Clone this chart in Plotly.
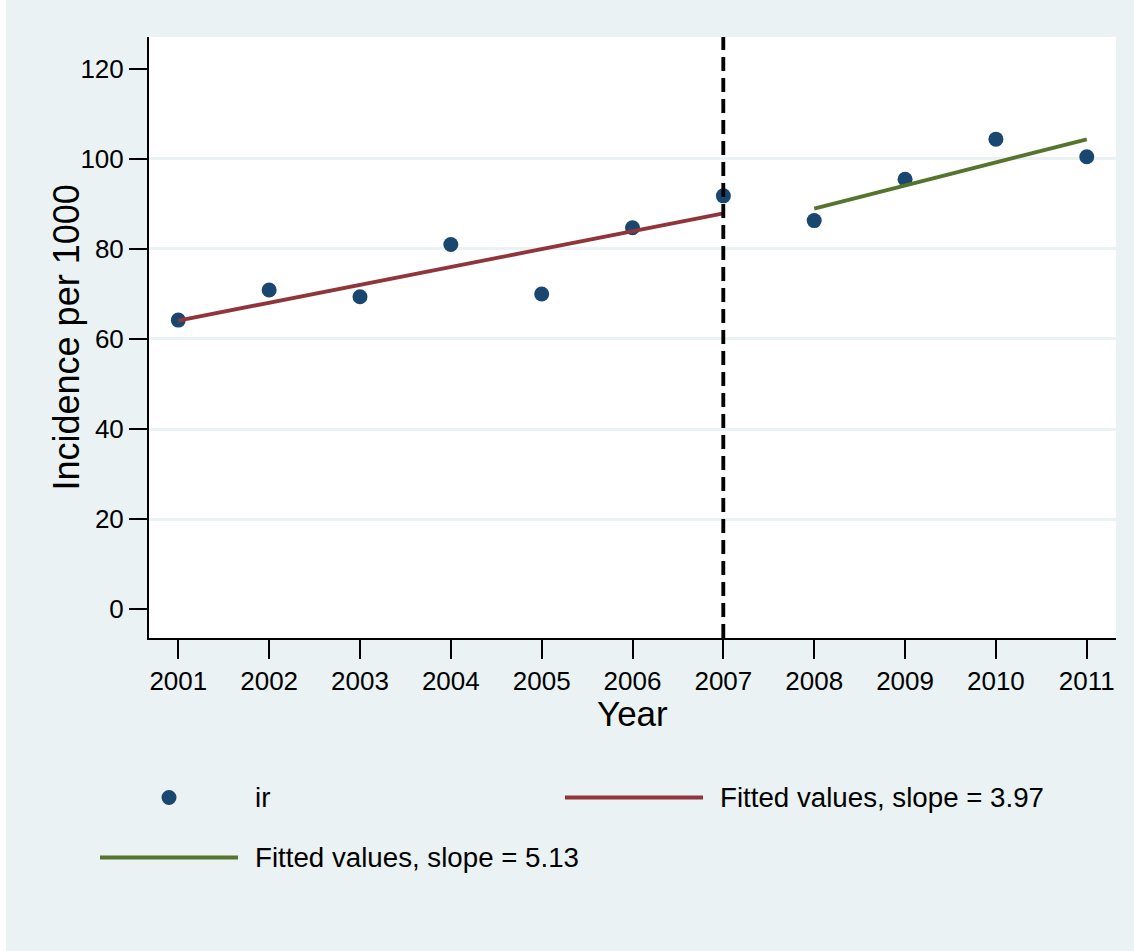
import plotly.graph_objects as go
import numpy as np

# Incidence rate per 1000 by year
years = [2001, 2002, 2003, 2004, 2005, 2006, 2007, 2008, 2009, 2010, 2011]
incidence = [64.2, 70.9, 69.4, 81.0, 70.0, 84.7, 91.8, 86.3, 95.5, 104.4, 100.5]

# Break year and fitted slopes on each side of it
break_year = 2007
slope_before = 3.97
slope_after = 5.13

y_ticks = [0, 20, 40, 60, 80, 100, 120]
grid_ticks = [20, 40, 60, 80, 100]

NAVY = "#1A476F"
MAROON = "#90353B"
GREEN = "#55752F"
PANEL = "#EAF2F3"
FONT = "Liberation Sans, Arial, Helvetica, sans-serif"

yrs = np.array(years, dtype=float)
inc = np.array(incidence, dtype=float)
pre = yrs <= break_year
post = yrs > break_year


def fitted(x, y, slope):
    # line with the given slope through the segment's centroid
    b0 = y.mean() - slope * x.mean()
    return [x.min(), x.max()], [b0 + slope * x.min(), b0 + slope * x.max()]


fx1, fy1 = fitted(yrs[pre], inc[pre], slope_before)
fx2, fy2 = fitted(yrs[post], inc[post], slope_after)

label_pts = "ir"
label_pre = f"Fitted values, slope = {slope_before:.2f}"
label_post = f"Fitted values, slope = {slope_after:.2f}"

fig = go.Figure()

fig.add_trace(go.Scatter(
    x=years, y=incidence, mode="markers", name=label_pts,
    marker=dict(color=NAVY, size=15, line=dict(width=0)),
    showlegend=False,
))
fig.add_trace(go.Scatter(
    x=fx1, y=fy1, mode="lines", name=label_pre,
    line=dict(color=MAROON, width=3.8), showlegend=False,
))
fig.add_trace(go.Scatter(
    x=fx2, y=fy2, mode="lines", name=label_post,
    line=dict(color=GREEN, width=3.8), showlegend=False,
))

# dashed reference line at the break year
fig.add_vline(x=break_year, line=dict(color="black", width=3.5, dash="14px,7px"), layer="above")

# Plot-area geometry in pixels (used to place the legend block and titles)
W, H = 1134, 951
L, R, T, B = 149, 18, 37, 313
pw, ph = W - L - R, H - T - B


def px(xp):
    return (xp - L) / pw


def py(yp):
    return (H - B - yp) / ph


shapes = []
# thin white border on the top and left of the panel
shapes.append(dict(type="rect", xref="paper", yref="paper", x0=px(0), x1=px(W), y0=py(5), y1=py(0),
                   fillcolor="white", line=dict(width=0), layer="below"))
shapes.append(dict(type="rect", xref="paper", yref="paper", x0=px(0), x1=px(6), y0=py(H), y1=py(0),
                   fillcolor="white", line=dict(width=0), layer="below"))

# legend keys
row1, row2 = 797.5, 857.5
shapes.append(dict(type="circle", xref="paper", yref="paper", xsizemode="pixel", ysizemode="pixel",
                   xanchor=px(169), yanchor=py(row1), x0=-7.5, x1=7.5, y0=-7.5, y1=7.5,
                   fillcolor=NAVY, line=dict(width=0)))
shapes.append(dict(type="line", xref="paper", yref="paper", x0=px(565), x1=px(703), y0=py(row1), y1=py(row1),
                   line=dict(color=MAROON, width=4)))
shapes.append(dict(type="line", xref="paper", yref="paper", x0=px(100), x1=px(238), y0=py(row2), y1=py(row2),
                   line=dict(color=GREEN, width=4)))

legend_font = dict(family=FONT, size=27.7, color="black")
annotations = [
    dict(text=label_pts, xref="paper", yref="paper", x=px(253), y=py(row1), xanchor="left", yanchor="middle",
         showarrow=False, font=legend_font),
    dict(text=label_pre, xref="paper", yref="paper", x=px(718), y=py(row1), xanchor="left", yanchor="middle",
         showarrow=False, font=legend_font),
    dict(text=label_post, xref="paper", yref="paper", x=px(253), y=py(row2), xanchor="left", yanchor="middle",
         showarrow=False, font=legend_font),
    dict(text="Incidence per 1000", xref="paper", yref="paper", x=px(66), y=0.5, textangle=-90,
         xanchor="center", yanchor="middle", showarrow=False, font=dict(family=FONT, size=36, color="black")),
    dict(text="Year", xref="paper", yref="paper", x=0.5, y=py(714), xanchor="center", yanchor="middle",
         showarrow=False, font=dict(family=FONT, size=35, color="black")),
]

fig.update_layout(
    width=W, height=H,
    margin=dict(l=L, r=R, t=T, b=B, pad=0),
    paper_bgcolor=PANEL, plot_bgcolor="white",
    font=dict(family=FONT, color="black"),
    shapes=shapes + list(fig.layout.shapes),
    annotations=annotations,
    showlegend=False,
    xaxis=dict(
        range=[2000.6775, 2011.322], tickvals=years, ticktext=[str(y) for y in years],
        showgrid=False, zeroline=False, showline=True, linecolor="black", linewidth=2,
        ticks="outside", ticklen=19, tickwidth=2, tickcolor="black",
        tickfont=dict(family=FONT, size=26, color="black"),
    ),
    yaxis=dict(
        range=[-6.44, 127.1], tickvals=y_ticks,
        showgrid=False, zeroline=False, showline=True, linecolor="black", linewidth=2,
        ticks="outside", ticklen=18, tickwidth=2, tickcolor="black",
        tickfont=dict(family=FONT, size=26, color="black"),
    ),
    # grid drawn only at interior ticks
    yaxis2=dict(
        overlaying="y", matches="y", tickvals=grid_ticks, showticklabels=False, ticks="",
        showgrid=True, gridcolor=PANEL, gridwidth=2.5, showline=False, zeroline=False,
    ),
)

# invisible helper so the grid axis is rendered
fig.add_trace(go.Scatter(x=[years[0]], y=[incidence[0]], yaxis="y2", mode="markers",
                         marker=dict(opacity=0), hoverinfo="skip", showlegend=False))

fig.write_html("out.html")
